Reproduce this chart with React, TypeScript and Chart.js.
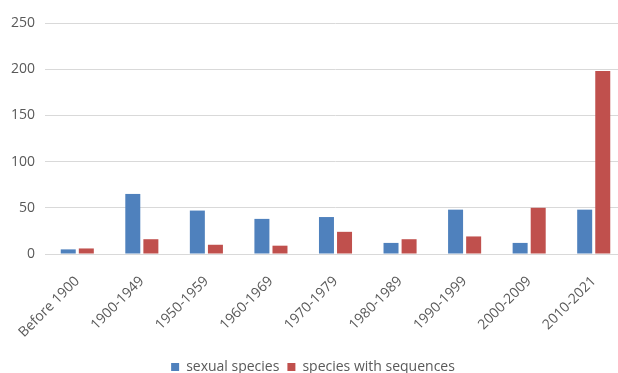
import React, { useEffect, useRef } from "react";
import { Chart, registerables } from "chart.js";

Chart.register(...registerables);

const categories = [
  "Before 1900",
  "1900-1949",
  "1950-1959",
  "1960-1969",
  "1970-1979",
  "1980-1989",
  "1990-1999",
  "2000-2009",
  "2010-2021",
];
const sexualSpecies = [5, 65, 47, 38, 40, 12, 48, 12, 48];
const speciesWithSequences = [6, 16, 10, 9, 24, 16, 19, 50, 198];
const yTicks = [0, 50, 100, 150, 200, 250];

export default function App() {
  const ref = useRef<HTMLCanvasElement | null>(null);
  useEffect(() => {
    if (!ref.current) return;
    const font = { family: "'Open Sans', 'Noto Sans', sans-serif", size: 14 };
    const chart = new Chart(ref.current, {
      type: "bar",
      data: {
        labels: categories,
        datasets: [
          {
            label: "sexual species",
            data: sexualSpecies,
            backgroundColor: "#4f81bd",
            barPercentage: 0.83,
            categoryPercentage: 0.56,
          },
          {
            label: "species with sequences",
            data: speciesWithSequences,
            backgroundColor: "#c0504d",
            barPercentage: 0.83,
            categoryPercentage: 0.56,
          },
        ],
      },
      options: {
        animation: false,
        responsive: false,
        layout: { padding: { top: 23, left: 0, right: 0, bottom: 0 } },
        plugins: {
          legend: {
            position: "bottom",
            labels: {
              boxWidth: 8,
              boxHeight: 8,
              padding: 8,
              color: "#595959",
              font,
            },
          },
          tooltip: { enabled: false },
        },
        scales: {
          x: {
            grid: { display: false },
            border: { display: true, color: "#d9d9d9" },
            ticks: {
              color: "#595959",
              font,
              minRotation: 45,
              maxRotation: 45,
              padding: 11,
            },
            afterFit: (s: any) => {
              s.height = 98;
            },
          },
          y: {
            min: 0,
            max: 250,
            afterBuildTicks: (s: any) => {
              s.ticks = yTicks.map((v) => ({ value: v }));
            },
            grid: { color: "#d9d9d9", drawTicks: false },
            border: { display: false },
            ticks: { color: "#595959", font, padding: 10 },
            afterFit: (s: any) => {
              s.width = 45;
            },
          },
        },
      },
    });
    return () => chart.destroy();
  }, []);
  return (
    <div
      style={{
        position: "fixed",
        left: 0,
        top: 0,
        width: 618,
        height: 373,
        overflow: "hidden",
        background: "#fff",
      }}
    >
      <canvas ref={ref} width={626} height={384} style={{ display: "block" }} />
    </div>
  );
}
